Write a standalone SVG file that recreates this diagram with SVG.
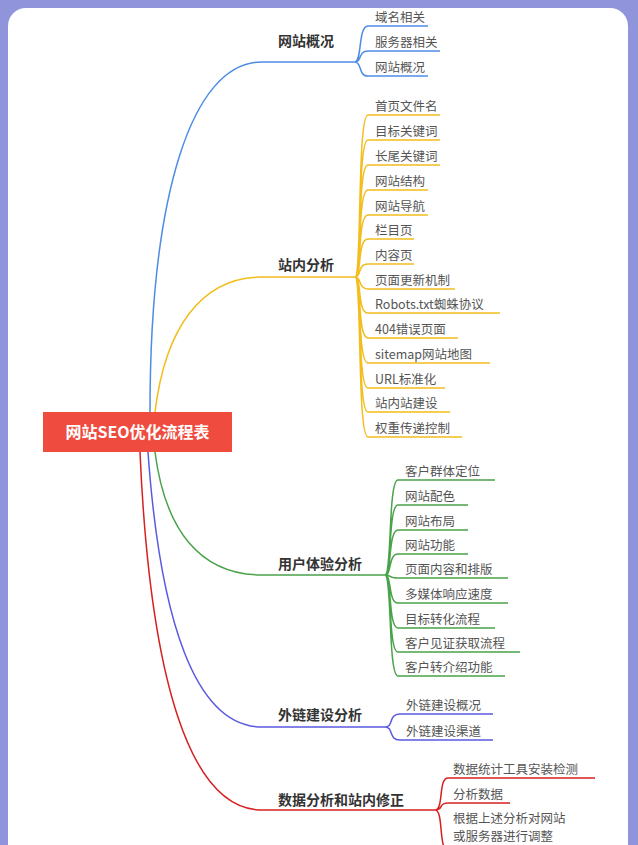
<svg xmlns="http://www.w3.org/2000/svg" width="638" height="845" viewBox="0 0 638 845">
<style>
.m{font-family:"Noto Sans CJK SC","Liberation Sans",sans-serif;font-size:14px;font-weight:bold;fill:#333}
.c{font-family:"Noto Sans CJK SC","Liberation Sans",sans-serif;font-size:12.5px;fill:#555}
.l{fill:none;stroke-width:1.5}
.b{stroke:#4d8ce6}.y{stroke:#f2bd1d}.g{stroke:#4aa34a}.p{stroke:#5a5ae0}.r{stroke:#d62020}
</style>
<rect width="638" height="845" fill="#9094da"/>
<rect x="8" y="8" width="620" height="860" rx="18" fill="#fff"/>
<g id="connectors">
<path class="l b" stroke-width="3" d="M150,412 C150,200 190,62 262,62 L355,62"/>
<path class="l b" d="M355,62 C362,62 358,26 368,26 L428,26 M355,62 C362,62 358,51 368,51 L440,51 M355,62 C362,62 358,76 368,76 L428,76"/>
<path class="l y" stroke-width="3" d="M155,412 C165,330 200,277 262,277 L355,277"/>
<path class="l y" d="M355,277 C362,277 357,115 368,115 L440,115 M355,277 C362,277 357,140 368,140 L440,140 M355,277 C362,277 357,165 368,165 L440,165 M355,277 C362,277 357,190 368,190 L428,190 M355,277 C362,277 357,215 368,215 L428,215 M355,277 C362,277 357,239 368,239 L414,239 M355,277 C362,277 357,264 368,264 L414,264 M355,277 C362,277 358,289 368,289 L455,289 M355,277 C362,277 357,313 368,313 L500,313 M355,277 C362,277 357,338 368,338 L458,338 M355,277 C362,277 357,363 368,363 L490,363 M355,277 C362,277 357,388 368,388 L445,388 M355,277 C362,277 357,412 368,412 L450,412 M355,277 C362,277 357,437 368,437 L462,437"/>
<path class="l g" stroke-width="3" d="M155,452 C165,530 200,575 262,575 L385,575"/>
<path class="l g" d="M385,575 C392,575 388,480 398,480 L495,480 M385,575 C392,575 388,505 398,505 L468,505 M385,575 C392,575 388,530 398,530 L468,530 M385,575 C392,575 388,554 398,554 L468,554 M385,575 C392,575 388,578 398,578 L508,578 M385,575 C392,575 388,603 398,603 L508,603 M385,575 C392,575 388,628 398,628 L495,628 M385,575 C392,575 388,652 398,652 L520,652 M385,575 C392,575 388,676 398,676 L505,676"/>
<path class="l p" stroke-width="2.5" d="M148,452 C160,620 195,727 262,727 L385,727"/>
<path class="l p" d="M385,727 C394,727 388,714 400,714 L493,714 M385,727 C394,727 388,740 400,740 L493,740"/>
<path class="l r" stroke-width="3" d="M140,452 C150,680 190,810 262,810 L435,810"/>
<path class="l r" d="M435,810 C444,810 438,778 448,778 L595,778 M435,810 C444,810 438,803 448,803 L510,803 M435,810 C444,810 438,850 448,850 L595,850"/>
</g>
<g id="root"><rect x="43" y="412" width="189" height="40" fill="#ef4b3f"/><text x="137.5" y="438" text-anchor="middle" font-family="Noto Sans CJK SC,Liberation Sans,sans-serif" font-size="16" font-weight="bold" fill="#fff">网站SEO优化流程表</text></g>
<g id="n1"><text class="m" x="278" y="46">网站概况</text>
<text class="c" x="375" y="22">域名相关</text><text class="c" x="375" y="47">服务器相关</text><text class="c" x="375" y="72">网站概况</text></g>
<g id="n2"><text class="m" x="278" y="270">站内分析</text>
<text class="c" x="375" y="111">首页文件名</text><text class="c" x="375" y="136">目标关键词</text><text class="c" x="375" y="161">长尾关键词</text><text class="c" x="375" y="186">网站结构</text><text class="c" x="375" y="211">网站导航</text><text class="c" x="375" y="235">栏目页</text><text class="c" x="375" y="260">内容页</text><text class="c" x="375" y="285">页面更新机制</text><text class="c" x="375" y="309">Robots.txt蜘蛛协议</text><text class="c" x="375" y="334">404错误页面</text><text class="c" x="375" y="359">sitemap网站地图</text><text class="c" x="375" y="384">URL标准化</text><text class="c" x="375" y="408">站内站建设</text><text class="c" x="375" y="433">权重传递控制</text></g>
<g id="n3"><text class="m" x="278" y="569">用户体验分析</text>
<text class="c" x="405" y="476">客户群体定位</text><text class="c" x="405" y="501">网站配色</text><text class="c" x="405" y="526">网站布局</text><text class="c" x="405" y="550">网站功能</text><text class="c" x="405" y="574">页面内容和排版</text><text class="c" x="405" y="599">多媒体响应速度</text><text class="c" x="405" y="624">目标转化流程</text><text class="c" x="405" y="648">客户见证获取流程</text><text class="c" x="405" y="672">客户转介绍功能</text></g>
<g id="n4"><text class="m" x="278" y="720">外链建设分析</text>
<text class="c" x="406" y="710">外链建设概况</text><text class="c" x="406" y="736">外链建设渠道</text></g>
<g id="n5"><text class="m" x="278" y="805">数据分析和站内修正</text>
<text class="c" x="453" y="774">数据统计工具安装检测</text><text class="c" x="453" y="799">分析数据</text><text class="c" x="453" y="823">根据上述分析对网站</text><text class="c" x="453" y="841">或服务器进行调整</text></g>
</svg>
